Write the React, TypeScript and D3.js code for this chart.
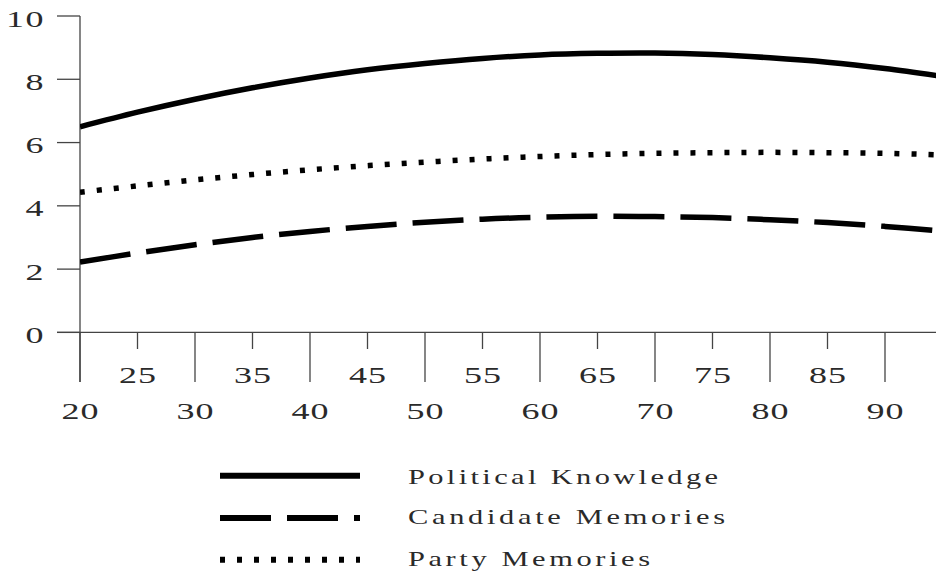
import React from "react";
import * as d3 from "d3";

const ages = [20, 25, 30, 35, 40, 45, 50, 55, 60, 65, 70, 75, 80, 85, 90, 95];
const politicalKnowledge = [6.5, 6.96, 7.37, 7.73, 8.04, 8.3, 8.5, 8.66, 8.77, 8.82, 8.83, 8.78, 8.68, 8.54, 8.34, 8.09];
const candidateMemories = [2.22, 2.51, 2.77, 3.0, 3.19, 3.35, 3.48, 3.58, 3.64, 3.67, 3.66, 3.63, 3.56, 3.47, 3.35, 3.2];
const partyMemories = [4.43, 4.63, 4.82, 4.99, 5.14, 5.27, 5.38, 5.48, 5.56, 5.62, 5.66, 5.68, 5.69, 5.68, 5.66, 5.61];

const yTicks = [0, 2, 4, 6, 8, 10];
const xMajorTicks = [20, 30, 40, 50, 60, 70, 80, 90];
const xMinorTicks = [25, 35, 45, 55, 65, 75, 85];

const seriesNames = ["Political Knowledge", "Candidate Memories", "Party Memories"];
const seriesDash = ["none", "51,16", "5,12"];
const legendWidths = [310, 317, 242];

const W = 936;
const H = 581;
const FONT = "Liberation Serif, Times New Roman, serif";

export default function App() {
  const x = d3.scaleLinear().domain([20, 90]).range([80, 885]);
  const y = d3.scaleLinear().domain([0, 10]).range([332.4, 16]);
  const line = d3
    .line<number>()
    .x((_, i) => x(ages[i]))
    .y((d) => y(d))
    .curve(d3.curveCatmullRom);
  const allSeries = [politicalKnowledge, candidateMemories, partyMemories];
  const axisColor = "#444";
  const textColor = "#2a2a2a";
  const tickScale = 1.5;
  const legendScale = 1.45;
  const txt = { fontFamily: FONT };

  return (
    <svg
      width={W}
      height={H}
      style={{ position: "absolute", left: 0, top: 0, background: "#fff" }}
    >
      <defs>
        <clipPath id="plotClip">
          <rect x={x(20)} y={0} width={W - x(20)} height={y(0)} />
        </clipPath>
      </defs>
      <rect x={0} y={0} width={W} height={H} fill="#fff" />

      {/* y axis */}
      <line x1={x(20)} x2={x(20)} y1={y(10)} y2={382} stroke={axisColor} strokeWidth={1.3} />
      {yTicks.map((t) => (
        <g key={"y" + t}>
          <line x1={57} x2={x(20)} y1={y(t)} y2={y(t)} stroke={axisColor} strokeWidth={1.3} />
          <g transform={`translate(45,${y(t) + 10.5}) scale(${tickScale},1)`}>
            <text x={0} y={0} textAnchor="end" style={txt} fontSize={24} letterSpacing={1} fill={textColor}>
              {t}
            </text>
          </g>
        </g>
      ))}

      {/* x axis */}
      <line x1={57} x2={W} y1={y(0)} y2={y(0)} stroke={axisColor} strokeWidth={1.3} />
      {xMajorTicks.map((t) => (
        <g key={"xM" + t}>
          <line x1={x(t)} x2={x(t)} y1={y(0)} y2={382} stroke={axisColor} strokeWidth={1.3} />
          <g transform={`translate(${x(t) + 0.5},419) scale(${tickScale},1)`}>
            <text x={0} y={0} textAnchor="middle" style={txt} fontSize={24} letterSpacing={0.6} fill={textColor}>
              {t}
            </text>
          </g>
        </g>
      ))}
      {xMinorTicks.map((t) => (
        <g key={"xm" + t}>
          <line x1={x(t)} x2={x(t)} y1={y(0)} y2={349} stroke={axisColor} strokeWidth={1.3} />
          <g transform={`translate(${x(t) + 0.5},383) scale(${tickScale},1)`}>
            <text x={0} y={0} textAnchor="middle" style={txt} fontSize={24} letterSpacing={0.6} fill={textColor}>
              {t}
            </text>
          </g>
        </g>
      ))}

      {/* series */}
      <g clipPath="url(#plotClip)">
        {allSeries.map((s, i) => (
          <path
            key={seriesNames[i]}
            d={line(s) || ""}
            fill="none"
            stroke="#000"
            strokeWidth={5.5}
            strokeDasharray={seriesDash[i]}
            strokeLinecap="butt"
          />
        ))}
      </g>

      {/* legend */}
      {seriesNames.map((name, i) => {
        const ly = [475.7, 518, 559.7][i];
        const by = [484, 524, 566][i];
        return (
          <g key={"leg" + name}>
            <line x1={220} x2={360} y1={ly} y2={ly} stroke="#000" strokeWidth={6} strokeDasharray={seriesDash[i]} />
            <g transform={`translate(408,${by}) scale(${legendScale},1)`}>
              <text
                x={0}
                y={0}
                style={txt}
                fontSize={21}
                fill={textColor}
                textLength={legendWidths[i] / legendScale}
                lengthAdjust="spacing"
              >
                {name}
              </text>
            </g>
          </g>
        );
      })}
    </svg>
  );
}
